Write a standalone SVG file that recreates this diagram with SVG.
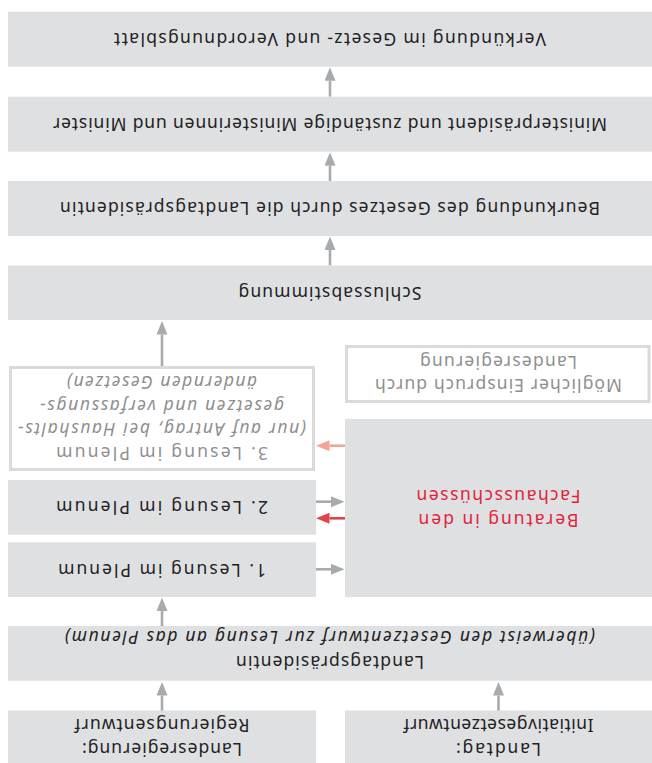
<svg xmlns="http://www.w3.org/2000/svg" width="652" height="763" viewBox="0 0 652 763">
<style>
.box{fill:#dfe0e2}
.wbox{fill:#ffffff;stroke:#d9dadc;stroke-width:3}
text{font-family:'Noto Sans','Open Sans',sans-serif;font-size:17.5px;fill:#222222;text-anchor:middle}
.g{fill:#8f8f8f}
.r{fill:#e2233b}
.i{font-style:italic}
.ln{fill:none;stroke-width:2.6}
.gray{stroke:#a8abae}
.red{stroke:#e2434a}
.pink{stroke:#f2a596}
</style>
<defs>
<marker id="ag" markerUnits="userSpaceOnUse" markerWidth="14" markerHeight="12" refX="0" refY="5.5" orient="auto"><path d="M0,0 L13.5,5.5 L0,11 z" fill="#a8abae"/></marker>
<marker id="ar" markerUnits="userSpaceOnUse" markerWidth="14" markerHeight="12" refX="0" refY="5.5" orient="auto"><path d="M0,0 L13.5,5.5 L0,11 z" fill="#e2434a"/></marker>
<marker id="ap" markerUnits="userSpaceOnUse" markerWidth="14" markerHeight="12" refX="0" refY="5.5" orient="auto"><path d="M0,0 L13.5,5.5 L0,11 z" fill="#f2a596"/></marker>
</defs>
<g transform="rotate(180 326 381.5)">
<g id="connectors">
<line class="ln gray" x1="490" y1="52" x2="490" y2="67.5" marker-end="url(#ag)"/>
<line class="ln gray" x1="153.5" y1="52" x2="153.5" y2="67.5" marker-end="url(#ag)"/>
<line class="ln gray" x1="490" y1="137" x2="490" y2="152" marker-end="url(#ag)"/>
<line class="ln gray" x1="490" y1="397" x2="490" y2="428.5" marker-end="url(#ag)"/>
<line class="ln gray" x1="322" y1="497.5" x2="322" y2="513" marker-end="url(#ag)"/>
<line class="ln gray" x1="322" y1="582" x2="322" y2="597.3" marker-end="url(#ag)"/>
<line class="ln gray" x1="322" y1="666.3" x2="322" y2="682.3" marker-end="url(#ag)"/>
<line class="ln gray" x1="336" y1="193.7" x2="321" y2="193.7" marker-end="url(#ag)"/>
<line class="ln gray" x1="336" y1="261.3" x2="321" y2="261.3" marker-end="url(#ag)"/>
<line class="ln red" x1="307" y1="244.7" x2="322.5" y2="244.7" marker-end="url(#ar)"/>
<line class="ln pink" x1="307" y1="317.3" x2="322.5" y2="317.3" marker-end="url(#ap)"/>
</g>
<g id="node-landesregierung">
<rect class="box" x="336" y="0" width="308" height="52.5"/>
<text x="490" y="20" textLength="160" lengthAdjust="spacing">Landesregierung:</text>
<text x="490" y="44" textLength="175" lengthAdjust="spacing">Regierungsentwurf</text>
</g>
<g id="node-landtag">
<rect class="box" x="0" y="0" width="307" height="52.5"/>
<text x="153.5" y="20" textLength="85" lengthAdjust="spacing">Landtag:</text>
<text x="153.5" y="44" textLength="190" lengthAdjust="spacing">Initiativgesetzentwurf</text>
</g>
<g id="node-landtagspraesidentin">
<rect class="box" x="0" y="82.3" width="644" height="54.7"/>
<text x="322" y="107" textLength="188" lengthAdjust="spacing">Landtagspräsidentin</text>
<text class="i" x="322" y="132" textLength="530" lengthAdjust="spacing">(überweist den Gesetzentwurf zur Lesung an das Plenum)</text>
</g>
<g id="node-lesung1">
<rect class="box" x="336" y="166" width="308" height="54.7"/>
<text x="490" y="199.5" textLength="208" lengthAdjust="spacing">1. Lesung im Plenum</text>
</g>
<g id="node-lesung2">
<rect class="box" x="336" y="228.3" width="308" height="54.7"/>
<text x="490" y="261.9" textLength="212" lengthAdjust="spacing">2. Lesung im Plenum</text>
</g>
<g id="node-lesung3">
<rect class="wbox" x="338.5" y="293.5" width="303" height="102"/>
<text class="g" x="490" y="316.3" textLength="212" lengthAdjust="spacing">3. Lesung im Plenum</text>
<text class="g i" x="490" y="339.8" textLength="288" lengthAdjust="spacing">(nur auf Antrag, bei Haushalts-</text>
<text class="g i" x="490" y="363.3" textLength="244" lengthAdjust="spacing">gesetzen und verfassungs-</text>
<text class="g i" x="490" y="386.8" textLength="190" lengthAdjust="spacing">ändernden Gesetzen)</text>
</g>
<g id="node-beratung">
<rect class="box" x="0" y="166" width="307" height="178"/>
<text class="r" x="153.5" y="249.5" textLength="160" lengthAdjust="spacing">Beratung in den</text>
<text class="r" x="153.5" y="273.5" textLength="164" lengthAdjust="spacing">Fachausschüssen</text>
</g>
<g id="node-einspruch">
<rect class="wbox" x="3" y="361.5" width="302.5" height="55"/>
<text class="g" x="153.5" y="384" textLength="247" lengthAdjust="spacing">Möglicher Einspruch durch</text>
<text class="g" x="153.5" y="407" textLength="157" lengthAdjust="spacing">Landesregierung</text>
</g>
<g id="node-schlussabstimmung">
<rect class="box" x="0" y="443" width="644" height="54.5"/>
<text x="322" y="476.4" textLength="183" lengthAdjust="spacing">Schlussabstimmung</text>
</g>
<g id="node-beurkundung">
<rect class="box" x="0" y="527" width="644" height="55"/>
<text x="322" y="560.7" textLength="540" lengthAdjust="spacing">Beurkundung des Gesetzes durch die Landtagspräsidentin</text>
</g>
<g id="node-minister">
<rect class="box" x="0" y="611.3" width="644" height="55"/>
<text x="322" y="645" textLength="554" lengthAdjust="spacing">Ministerpräsident und zuständige Ministerinnen und Minister</text>
</g>
<g id="node-verkuendung">
<rect class="box" x="0" y="696.3" width="644" height="55"/>
<text x="322" y="730" textLength="432" lengthAdjust="spacing">Verkündung im Gesetz- und Verordnungsblatt</text>
</g>
</g>
</svg>
